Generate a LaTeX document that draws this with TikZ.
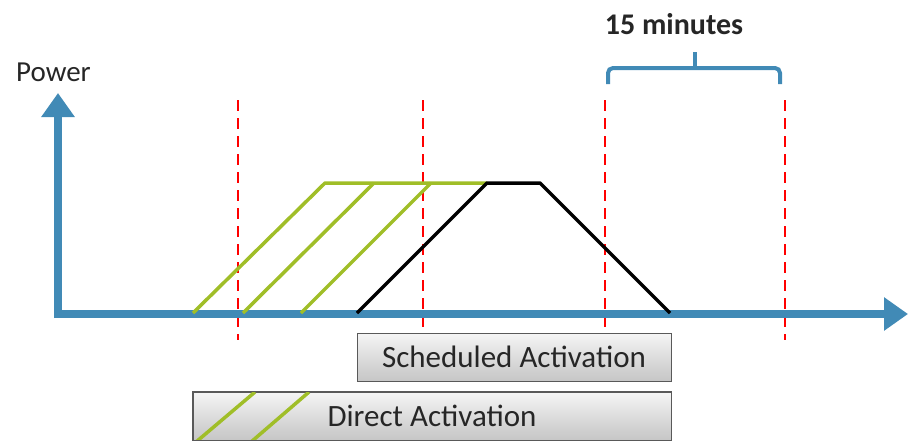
\documentclass[tikz,border=0pt]{standalone}
\usepackage{fontspec}
\setmainfont{Carlito}
\usetikzlibrary{arrows.meta}
\definecolor{axisblue}{RGB}{65,138,182}
\definecolor{limegreen}{RGB}{160,190,40}
\tikzset{
  axis/.style={axisblue, line width=8pt, -{Triangle[length=24pt,width=32pt]}},
  slot/.style={red, line width=2.5pt, dash pattern=on 11pt off 7pt},
  grn/.style={limegreen, line width=3.5pt},
  blk/.style={black, line width=3.5pt, line join=round},
  actbox/.style={draw=gray!70!black, line width=1pt, top color=gray!8, bottom color=gray!45, font=\fontsize{31}{33}\selectfont, text=black!85, inner sep=0pt},
  lbl/.style={font=\fontsize{29}{31}\selectfont, text=black!85, inner sep=0pt}
}
\begin{document}
\begin{tikzpicture}[x=1pt,y=-1pt]
\useasboundingbox (0,0) rectangle (908,445);
% dashed slot lines
\foreach \xx in {238,423,605,785} \draw[slot] (\xx,100) -- (\xx,340);
% axes
\coordinate (o) at (58,314);
\coordinate (ytip) at (58,93);
\coordinate (xtip) at (908,314);
\draw[axis] (54,314) -- (xtip);
\draw[axis] (58,318) -- (ytip);
\node[lbl, anchor=west] (power) at (16,72) {Power};
% green ramps
\draw[grn, line join=round] (193,313) -- (325,183) -- (487,183);
\draw[grn] (243,313) -- (374,183);
\draw[grn] (301,313) -- (431,183);
% black profile
\draw[blk] (357,313) -- (487,183) -- (540,183) -- (670,313);
% brace
\draw[axisblue, line width=4pt, rounded corners=5pt] (608,84) -- (608,68) -- (780,68) -- (780,84);
\draw[axisblue, line width=4pt] (695,68) -- (695,52);
\node[lbl, font=\bfseries\fontsize{30}{32}\selectfont] (min) at (674,24) {15 minutes};
% boxes
\node[actbox, minimum width=314pt, minimum height=48pt] (sched) at (514,357) {Scheduled Activation};
\node[actbox, minimum width=478pt, minimum height=48pt] (direct) at (432,416) {Direct Activation};
\begin{scope}
\clip (direct.south west) rectangle (direct.north east);
\draw[grn] (196,442) -- (255,392);
\draw[grn] (251,442) -- (309,392);
\end{scope}
\draw[gray!70!black, line width=1pt] (direct.south west) rectangle (direct.north east);
\end{tikzpicture}
\end{document}
